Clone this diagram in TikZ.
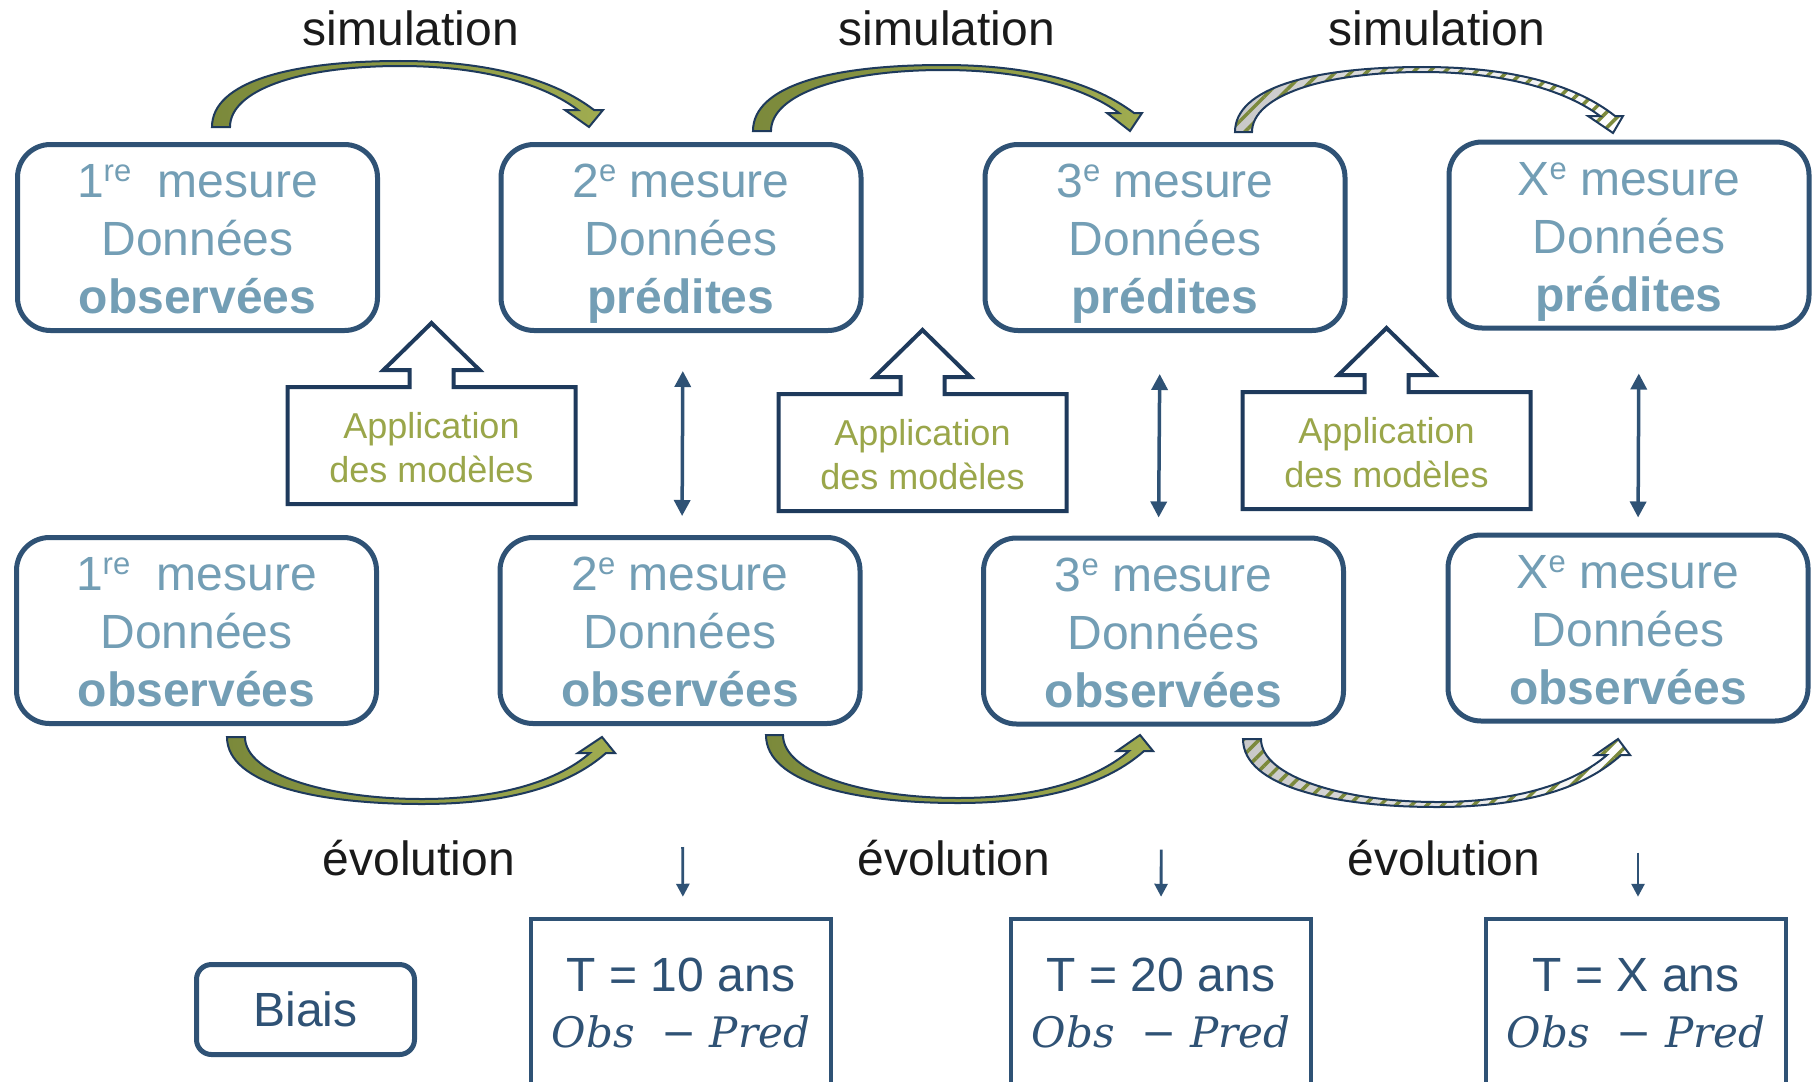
\documentclass[tikz,border=0pt]{standalone}
\usepackage{fontspec}
\setmainfont{Liberation Sans}
\newfontfamily\obsfont{DejaVu Serif}
\usetikzlibrary{arrows.meta,patterns.meta}
\definecolor{navy}{HTML}{2F5275}
\definecolor{lightblue}{HTML}{739EB5}
\definecolor{olivetext}{HTML}{9AA64A}
\definecolor{arrline}{HTML}{1E3A5C}
\definecolor{olivedark}{HTML}{7B893B}
\definecolor{olivelight}{HTML}{A0AC50}
\definecolor{labelblack}{HTML}{1A1A1A}
\definecolor{stripegray}{HTML}{C8C8C8}
\newcommand\sups[1]{\raisebox{16pt}{\fontsize{31}{31}\selectfont #1}}
\newcommand\obspred{{\obsfont\itshape\fontsize{42}{50}\selectfont Obs\ \ −\ Pred}}
\tikzset{
  mbx/.style={draw=navy, line width=5pt, rounded corners=33pt, minimum width=360pt, minimum height=186pt, inner sep=0pt},
  mtx/.style={anchor=base, inner sep=0pt, text=lightblue, font=\fontsize{48}{58}\selectfont},
  atx/.style={anchor=base, inner sep=0pt, text=olivetext, font=\fontsize{36}{44}\selectfont},
  appline/.style={draw=arrline, line width=4pt, fill=white, line join=miter},
  lbl/.style={anchor=base, inner sep=0pt, text=labelblack, font=\fontsize{48}{58}\selectfont},
  tbx/.style={draw=navy, line width=4.5pt, minimum width=300pt, minimum height=192pt, inner sep=0pt},
  ttx/.style={anchor=base, inner sep=0pt, text=navy, font=\fontsize{48}{58}\selectfont},
  bbx/.style={draw=navy, line width=5pt, rounded corners=15pt, minimum width=218pt, minimum height=90pt, inner sep=0pt, text=navy, font=\fontsize{48}{58}\selectfont},
  darrow/.style={navy, line width=3.5pt, {Triangle[width=16pt,length=16pt]}-{Triangle[width=16pt,length=16pt]}},
  sarrow/.style={navy, line width=2.8pt, -{Triangle[width=13pt,length=13pt]}},
  solidarr/.style={draw=arrline, line width=2pt, left color=olivedark, right color=olivelight},
  stripearr/.style={draw=arrline, line width=2pt, preaction={left color=stripegray, right color=white}, pattern={Lines[angle=45,distance=11pt,line width=3.5pt]}, pattern color=olivedark}
}
\newcommand\mesbox[5]{%
  \node[mbx] (#1) at (#2,#3) {};
  \node[mtx] (#1l1) at (#2,#3-40) {#4};
  \node[mtx] (#1l2) at (#2,#3+18) {Données};
  \node[mtx, font=\bfseries\fontsize{48}{58}\selectfont] (#1l3) at (#2,#3+76) {#5};}
\newcommand\appbox[3]{%
  \draw[appline] (#2-144,#3+117) -- (#2-144,#3) -- (#2-22,#3) -- (#2-22,#3-17) -- (#2-48,#3-17) -- (#2,#3-64) -- (#2+48,#3-17) -- (#2+22,#3-17) -- (#2+22,#3) -- (#2+144,#3) -- (#2+144,#3+117) -- cycle;
  \node[atx] (#1a) at (#2,#3+51) {Application};
  \node[atx] (#1b) at (#2,#3+95) {des modèles};}
\begin{document}
\begin{tikzpicture}[x=1pt,y=-1pt]
\useasboundingbox (0,0) rectangle (1819,1081);
\clip (0,0) rectangle (1819,1081);
\fill[white] (0,0) rectangle (1819,1081);

% top row
\mesbox{t1}{197.5}{237.5}{1\sups{re}\ \ mesure}{observées}
\mesbox{t2}{681}{237.5}{2\sups{e}\ mesure}{prédites}
\mesbox{t3}{1165}{237.5}{3\sups{e}\ mesure}{prédites}
\mesbox{t4}{1629}{235}{X\sups{e}\ mesure}{prédites}
% bottom row
\mesbox{b1}{196.5}{630.5}{1\sups{re}\ \ mesure}{observées}
\mesbox{b2}{680}{630.5}{2\sups{e}\ mesure}{observées}
\mesbox{b3}{1163.5}{631}{3\sups{e}\ mesure}{observées}
\mesbox{b4}{1628}{628}{X\sups{e}\ mesure}{observées}

% application boxes
\appbox{a1}{431.5}{387}
\appbox{a2}{922.5}{394}
\appbox{a3}{1386.5}{392}

% double arrows
\draw[darrow, shorten <=38pt, shorten >=19pt] ([xshift=2pt]t2.south) -- ([xshift=2pt]b2.north);
\draw[darrow, shorten <=41pt, shorten >=18pt] ([xshift=-5pt]t3.south) -- ([xshift=-5pt]b3.north);
\draw[darrow, shorten <=43pt, shorten >=15pt] ([xshift=10pt]t4.south) -- ([xshift=10pt]b4.north);

% labels
\node[lbl] (sim1) at (411,46) {simulation};
\node[lbl] (sim2) at (947,46) {simulation};
\node[lbl] (sim3) at (1437,46) {simulation};
\node[lbl] (evo1) at (419,875) {évolution};
\node[lbl] (evo2) at (954,875) {évolution};
\node[lbl] (evo3) at (1444,875) {évolution};

% curved arrows top
\path[solidarr] (212,127) .. controls (212,82) and (290,61) .. (400,61) .. controls (490,61) and (555,80) .. (594,110) -- (603,110) -- (589,127) -- (565,110) -- (578,110) .. controls (545,85) and (485,66) .. (400,66) .. controls (300,66) and (230,90) .. (230,127) -- cycle;
\path[solidarr] (753,131) .. controls (753,86) and (830,65) .. (943,65) .. controls (1035,65) and (1095,84) .. (1134,113) -- (1142,113) -- (1130,131) -- (1107,113) -- (1119,113) .. controls (1087,89) and (1028,70) .. (943,70) .. controls (843,70) and (771,94) .. (771,131) -- cycle;
\path[stripearr] (1235,132) .. controls (1235,88) and (1312,67) .. (1423,67) .. controls (1515,67) and (1577,86) .. (1615,116) -- (1623,116) -- (1613,133) -- (1588,116) -- (1600,116) .. controls (1568,92) and (1508,72) .. (1423,72) .. controls (1323,72) and (1252,96) .. (1252,132) -- cycle;

% curved arrows bottom
\path[solidarr] (227,737) .. controls (227,785) and (320,804) .. (422,804) .. controls (510,804) and (570,785) .. (606,753) -- (615,753) -- (602,737) -- (578,753) -- (590,753) .. controls (560,779) and (505,799) .. (422,799) .. controls (330,799) and (245,775) .. (245,737) -- cycle;
\path[solidarr] (766,735) .. controls (766,783) and (855,803) .. (958,803) .. controls (1048,803) and (1108,783) .. (1144,751) -- (1153,751) -- (1140,735) -- (1117,751) -- (1129,751) .. controls (1099,777) and (1043,798) .. (958,798) .. controls (865,798) and (783,773) .. (783,735) -- cycle;
\path[stripearr] (1243,739) .. controls (1243,787) and (1335,807) .. (1437,807) .. controls (1527,807) and (1586,787) .. (1621,755) -- (1630,755) -- (1618,739) -- (1595,755) -- (1607,755) .. controls (1577,781) and (1522,802) .. (1437,802) .. controls (1345,802) and (1261,777) .. (1261,739) -- cycle;

% result boxes
\node[tbx] (r1) at (681,1015) {};
\node[ttx] (r1a) at (681,991) {T = 10 ans};
\node[ttx] (r1b) at (681,1047) {\obspred};
\node[tbx] (r2) at (1161,1015) {};
\node[ttx] (r2a) at (1161,991) {T = 20 ans};
\node[ttx] (r2b) at (1161,1047) {\obspred};
\node[tbx] (r3) at (1636,1015) {};
\node[ttx] (r3a) at (1636,991) {T = X ans};
\node[ttx] (r3b) at (1636,1047) {\obspred};
\node[bbx] (biais) at (305.5,1009.5) {Biais};

% down arrows
\draw[sarrow, shorten <=121pt, shorten >=20pt] ([xshift=2pt]b2.south) -- ([xshift=2pt]r1.north);
\draw[sarrow, shorten <=123pt, shorten >=20pt] ([xshift=-2pt]b3.south) -- (r2.north);
\draw[sarrow, shorten <=129pt, shorten >=20pt] ([xshift=10pt]b4.south) -- ([xshift=2pt]r3.north);
\end{tikzpicture}
\end{document}
